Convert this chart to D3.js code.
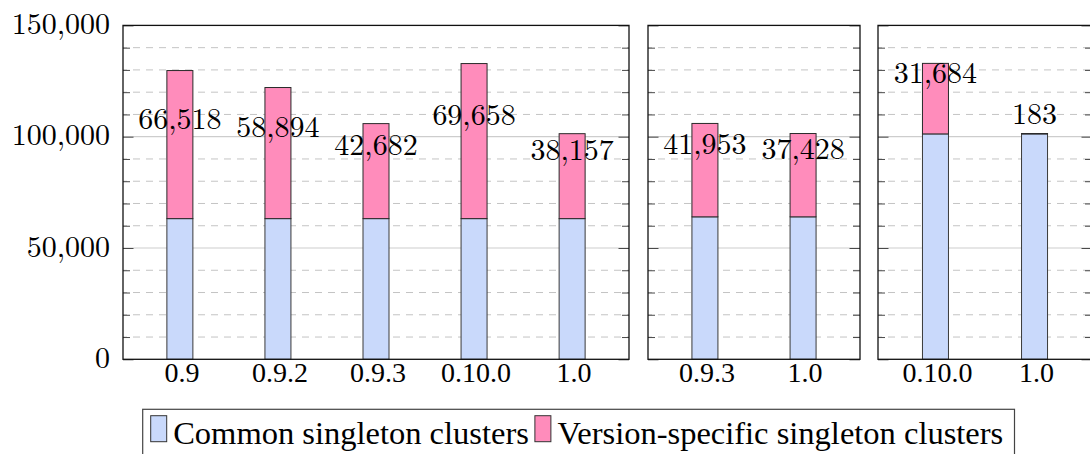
<!DOCTYPE html>
<html>
<head>
<meta charset="utf-8">
<script src="https://cdn.jsdelivr.net/npm/d3@7/dist/d3.min.js"></script>
<style>
  html, body { margin: 0; padding: 0; background: #fff; }
  svg { display: block; }
</style>
</head>
<body>
<script>
// ---------- data ----------
const panel1Categories = ["0.9", "0.9.2", "0.9.3", "0.10.0", "1.0"];
const panel1Common     = [63200, 63200, 63200, 63200, 63200];
const panel1Specific   = [66518, 58894, 42682, 69658, 38157];

const panel2Categories = ["0.9.3", "1.0"];
const panel2Common     = [64000, 64000];
const panel2Specific   = [41953, 37428];

const panel3Categories = ["0.10.0", "1.0"];
const panel3Common     = [101250, 101250];
const panel3Specific   = [31684, 183];

const yTickValues  = [0, 50000, 100000, 150000];
const seriesNames  = ["Common singleton clusters", "Version-specific singleton clusters"];

// ---------- layout ----------
const W = 1090, H = 454;
const COLORS = { common: "#c9d9fb", specific: "#ff8cbb" };
const plotTop = 25.4, plotBottom = 359.3;
const numFont = "Latin Modern Roman";
const textFont = "Liberation Serif";

const svg = d3.select("body").append("svg").attr("width", W).attr("height", H);

const y = d3.scaleLinear().domain([0, 150000]).range([plotBottom, plotTop]);

const panels = [
  { cats: panel1Categories, common: panel1Common, specific: panel1Specific, x0: 123, x1: 629 },
  { cats: panel2Categories, common: panel2Common, specific: panel2Specific, x0: 648, x1: 860 },
  { cats: panel3Categories, common: panel3Common, specific: panel3Specific, x0: 878, x1: 1092 }
];

const minorVals = d3.range(10000, 150000, 10000).filter(v => v % 50000 !== 0);
const majorInner = [50000, 100000];
const allTickVals = d3.range(0, 150001, 10000);
const BAR_W = 26;

panels.forEach((p, pi) => {
  const g = svg.append("g");
  const x = d3.scalePoint().domain(p.cats).range([p.x0, p.x1]).padding(0.58);

  // minor grid (dashed)
  g.selectAll(".minor").data(minorVals).enter().append("line")
    .attr("x1", p.x0).attr("x2", p.x1)
    .attr("y1", d => y(d)).attr("y2", d => y(d))
    .attr("stroke", "#c4c4c4").attr("stroke-width", 1)
    .attr("stroke-dasharray", "7,6").attr("stroke-dashoffset", -10);
  // major grid (solid)
  g.selectAll(".major").data(majorInner).enter().append("line")
    .attr("x1", p.x0).attr("x2", p.x1)
    .attr("y1", d => y(d)).attr("y2", d => y(d))
    .attr("stroke", "#cdcdcd").attr("stroke-width", 1.2);

  // inward ticks on both sides
  const leftTicks = d3.axisRight(y).tickValues(allTickVals).tickSize(7).tickFormat("");
  const gl = g.append("g").attr("transform", `translate(${p.x0},0)`).call(leftTicks);
  const rightTicks = d3.axisLeft(y).tickValues(allTickVals).tickSize(7).tickFormat("");
  const gr = g.append("g").attr("transform", `translate(${p.x1},0)`).call(rightTicks);
  [gl, gr].forEach(ax => {
    ax.select(".domain").remove();
    ax.selectAll(".tick line").attr("stroke", "#4a4a4a").attr("stroke-width", 1);
  });
  gl.selectAll(".tick").filter(d => d % 50000 === 0).select("line").attr("x2", 10.5);
  gr.selectAll(".tick").filter(d => d % 50000 === 0).select("line").attr("x2", -10.5);

  const rows = p.cats.map((c, i) => ({ cat: c, common: p.common[i], specific: p.specific[i] }));

  // bars - common
  g.selectAll(".bc").data(rows).enter().append("rect")
    .attr("x", d => x(d.cat) - BAR_W / 2).attr("width", BAR_W)
    .attr("y", d => y(d.common)).attr("height", d => y(0) - y(d.common))
    .attr("fill", COLORS.common).attr("stroke", "#3a3a3a").attr("stroke-width", 1);
  // bars - specific
  g.selectAll(".bs").data(rows).enter().append("rect")
    .attr("x", d => x(d.cat) - BAR_W / 2).attr("width", BAR_W)
    .attr("y", d => y(d.common + d.specific)).attr("height", d => y(d.common) - y(d.common + d.specific))
    .attr("fill", COLORS.specific).attr("stroke", "#2a2a2a").attr("stroke-width", 1);

  // border
  g.append("rect")
    .attr("x", p.x0).attr("y", plotTop)
    .attr("width", p.x1 - p.x0).attr("height", plotBottom - plotTop)
    .attr("fill", "none").attr("stroke", "#111").attr("stroke-width", 1.3);

  // value labels (anchored south at the middle of the specific segment)
  const fmt = d3.format(",");
  g.selectAll(".lbl").data(rows).enter().append("text")
    .attr("x", d => x(d.cat))
    .attr("y", d => {
      const s = fmt(d.specific);
      const mid = y(d.common + d.specific / 2);
      return mid - 10 - (s.includes(",") ? 6 : 0);
    })
    .attr("text-anchor", "middle")
    .style("font-family", numFont).style("font-size", "30px").attr("fill", "#000")
    .text(d => fmt(d.specific));

  // x axis labels
  const xa = d3.axisBottom(x).tickSize(0).tickPadding(0);
  const gx = g.append("g").attr("transform", `translate(0,${plotBottom})`).call(xa);
  gx.select(".domain").remove();
  gx.selectAll(".tick text")
    .attr("x", 1.5).attr("y", 23).attr("dy", 0)
    .style("font-family", textFont).style("font-size", "28px").attr("fill", "#000");

  // y axis labels (first panel only)
  if (pi === 0) {
    const ya = d3.axisLeft(y).tickValues(yTickValues).tickSize(0).tickPadding(13)
      .tickFormat(d3.format(","));
    const gy = g.append("g").attr("transform", `translate(${p.x0},0)`).call(ya);
    gy.select(".domain").remove();
    gy.selectAll(".tick text")
      .attr("dy", "0.27em")
      .style("font-family", numFont).style("font-size", "30px").attr("fill", "#000");
  }
});

// ---------- legend ----------
const lg = svg.append("g");
const legendX0 = 142.7, legendX1 = 1014.5, legendY0 = 409.3;
lg.append("rect")
  .attr("x", legendX0).attr("y", legendY0)
  .attr("width", legendX1 - legendX0).attr("height", 60)
  .attr("fill", "#fff").attr("stroke", "#444").attr("stroke-width", 1.2);

let cx = 150.7;
const legendColors = [COLORS.common, COLORS.specific];
seriesNames.forEach((name, i) => {
  lg.append("rect")
    .attr("x", cx).attr("y", 415.7).attr("width", 16).attr("height", 26)
    .attr("fill", legendColors[i]).attr("stroke", "#333").attr("stroke-width", 1);
  const t = lg.append("text")
    .attr("x", cx + 22.5).attr("y", 444)
    .style("font-family", textFont).style("font-size", "32.5px").attr("fill", "#000")
    .text(name);
  cx = cx + 22.5 + t.node().getComputedTextLength() + 6;
});
</script>
</body>
</html>
